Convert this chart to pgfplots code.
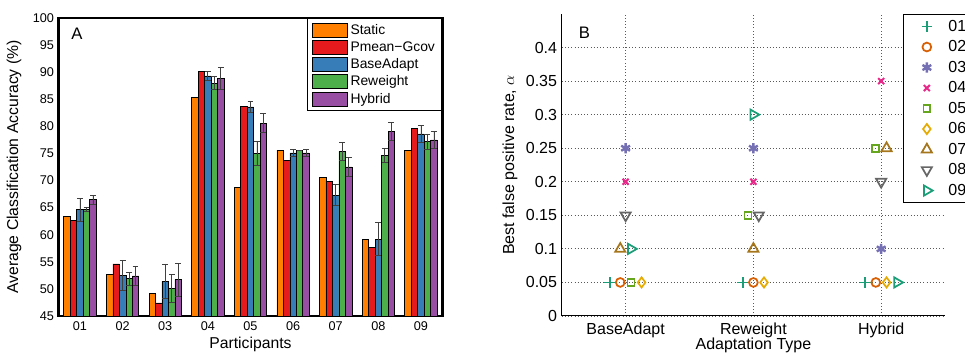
\documentclass[border=0pt]{standalone}
\usepackage{fontspec}
\setmainfont{Liberation Sans}
\usepackage{pgfplots}
\usepackage{pgfplotstable}
\pgfplotsset{compat=1.18}
\definecolor{cStatic}{RGB}{255,127,0}
\definecolor{cPmean}{RGB}{228,26,28}
\definecolor{cBase}{RGB}{55,126,184}
\definecolor{cRew}{RGB}{77,175,74}
\definecolor{cHyb}{RGB}{152,78,163}
\definecolor{dA}{RGB}{27,158,119}
\definecolor{dB}{RGB}{217,95,2}
\definecolor{dC}{RGB}{117,112,179}
\definecolor{dD}{RGB}{231,41,138}
\definecolor{dE}{RGB}{102,166,30}
\definecolor{dF}{RGB}{230,171,2}
\definecolor{dG}{RGB}{166,118,29}
\definecolor{dH}{RGB}{102,102,102}

\pgfplotstableread{
x s p b be r re h he
1 63.4 62.6 64.6 2.1 64.7 0.4 66.45 0.85
2 52.7 54.6 52.5 2.7 51.9 1.2 52.4 1.8
3 49.1 47.4 51.4 3.2 50.1 2.6 51.7 3.0
4 85.3 90.1 89.3 0.8 88.0 1.2 88.9 2.0
5 68.7 83.7 83.6 1.0 75.0 2.2 80.6 1.7
6 75.6 73.7 75.1 0.7 75.6 0.0 75.1 0.7
7 70.6 69.9 67.3 1.9 75.4 1.7 72.5 1.8
8 59.1 57.7 59.2 3.0 74.7 1.3 79.1 1.6
9 75.6 79.6 78.6 1.6 77.2 1.4 77.5 1.5
}\dataA

\pgfplotsset{
  barleg/.style={legend image code/.code={\draw[##1] (0pt,-5.25pt) rectangle (26.7pt,5.25pt);}},
  mleg/.style={legend image code/.code={\path[draw=none,fill=none] (0cm,-0.1cm) rectangle (1.0cm,0.1cm); \draw[##1] plot coordinates {(0.5cm,0cm)};}},
  ebar/.style={error bars/.cd, y dir=both, y explicit,
    error bar style={line width=0.6pt,black!75},
    error mark options={rotate=90,mark size=2.2pt,line width=0.6pt,black!75}},
}

\begin{document}
\begin{tikzpicture}
\begin{axis}[
  at={(44pt,30pt)}, anchor=south west, scale only axis,
  width=287.7pt, height=223.5pt,
  xmin=0.5, xmax=9.5, ymin=45, ymax=100,
  ybar=0pt, bar width=0.152,
  xtick={1,...,9}, xticklabels={01,02,03,04,05,06,07,08,09},
  ytick={45,50,...,100},
  major tick length=0pt,
  axis line style={line width=2pt},
  /pgf/number format/assume math mode=true,
  tick label style={font=\fontsize{9.5}{11}\selectfont},
  xticklabel style={anchor=base, yshift=-11.25pt},
  xlabel={Participants}, ylabel={Average Classification Accuracy (\%)},
  label style={font=\fontsize{11.8}{13}\selectfont},
  xlabel style={at={(axis description cs:0.5,-0.1107)}, anchor=base},
  ylabel style={at={(axis description cs:-0.1165,0.5)}, anchor=center},
  legend style={at={(1,1)}, anchor=north east, draw=black, line width=1pt,
     font=\fontsize{10.4}{12}\selectfont},
  legend cell align=left,
]
\addplot[fill=cStatic, draw=black, line width=0.5pt, barleg] table[x=x,y=s]{\dataA};
\addplot[fill=cPmean, draw=black, line width=0.5pt, barleg] table[x=x,y=p]{\dataA};
\addplot[fill=cBase, draw=black, line width=0.5pt, barleg, ebar] table[x=x,y=b,y error=be]{\dataA};
\addplot[fill=cRew, draw=black, line width=0.5pt, barleg, ebar] table[x=x,y=r,y error=re]{\dataA};
\addplot[fill=cHyb, draw=black, line width=0.5pt, barleg, ebar] table[x=x,y=h,y error=he]{\dataA};
\legend{Static,Pmean−Gcov,BaseAdapt,Reweight,Hybrid}
\node[font=\fontsize{12.5}{14}\selectfont] at (axis cs:0.93,97.1) {A};
\end{axis}

\begin{axis}[
  at={(421.3pt,30pt)}, anchor=south west, scale only axis,
  width=287.5pt, height=226.5pt,
  xmin=0.5, xmax=3.5, ymin=0, ymax=0.45,
  axis x line*=bottom, axis y line*=left,
  axis line style={-, line width=0.75pt},
  xtick={1,2,3}, xticklabels={BaseAdapt,Reweight,Hybrid},
  ytick={0,0.05,0.1,0.15,0.2,0.25,0.3,0.35,0.4},
  yticklabels={0,0.05,0.1,0.15,0.2,0.25,0.3,0.35,0.4},
  grid=major, grid style={dotted, black!65, line width=0.6pt},
  major tick length=0pt,
  tick label style={font=\fontsize{12}{14}\selectfont},
  xticklabel style={anchor=base, yshift=-14.25pt},
  xlabel={Adaptation Type}, ylabel={Best false positive rate, $\alpha$},
  label style={font=\fontsize{12}{14}\selectfont},
  xlabel style={at={(axis description cs:0.5,-0.1126)}, anchor=base},
  ylabel style={at={(axis description cs:-0.135,0.5)}, anchor=center},
  legend style={at={(0.891,1)}, anchor=north west, draw=black, line width=0.9pt,
     font=\fontsize{12}{14}\selectfont, row sep=1.5pt},
  legend cell align=left,
]
\addplot[only marks, mark=+, color=dA, mark size=4pt, line width=1.3pt, mleg]
  coordinates {(0.875,0.05) (1.917,0.05) (2.875,0.05)};
\addplot[only marks, mark=o, color=dB, mark size=3.3pt, line width=1.3pt, mleg]
  coordinates {(0.958,0.05) (2,0.05) (2.958,0.05)};
\addplot[only marks, mark=asterisk, color=dC, mark size=3.8pt, line width=1.8pt, mleg]
  coordinates {(1,0.25) (2,0.25) (3,0.1)};
\addplot[only marks, mark=x, color=dD, mark size=3.2pt, line width=1.5pt, mleg]
  coordinates {(1,0.2) (2,0.2) (3,0.35)};
\addplot[only marks, mark=square, color=dE, mark size=2.6pt, line width=1.3pt, mleg]
  coordinates {(1.042,0.05) (1.958,0.15) (2.958,0.25)};
\addplot[only marks, mark=diamond, color=dF, mark size=3.8pt, line width=1.3pt, mleg]
  coordinates {(1.125,0.05) (2.083,0.05) (3.042,0.05)};
\addplot[only marks, mark=triangle, color=dG, mark size=4.4pt, line width=1.3pt, mleg]
  coordinates {(0.958,0.1) (2,0.1) (3.042,0.25)};
\addplot[only marks, mark=triangle, mark options={rotate=180}, color=dH, mark size=4.4pt, line width=1.3pt, mleg]
  coordinates {(1,0.15) (2.042,0.15) (3,0.2)};
\addplot[only marks, mark=triangle, mark options={rotate=-90}, color=dA, mark size=4.4pt, line width=1.3pt, mleg]
  coordinates {(1.042,0.1) (2,0.3) (3.125,0.05)};
\legend{01,02,03,04,05,06,07,08,09}
\node[font=\fontsize{12.5}{14}\selectfont] at (axis cs:0.678,0.4227) {B};
\end{axis}
\pgfresetboundingbox
\path[use as bounding box] (0pt,0pt) rectangle (723.75pt,267pt);
\end{tikzpicture}
\end{document}
